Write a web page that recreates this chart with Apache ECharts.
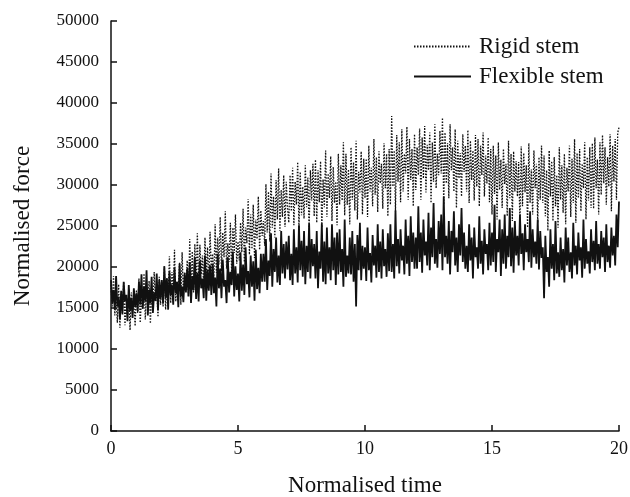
<!DOCTYPE html>
<html>
<head>
<meta charset="utf-8">
<script src="https://cdn.jsdelivr.net/npm/echarts@6/dist/echarts.min.js"></script>
<style>
  html, body { margin: 0; padding: 0; background: #fff; }
  #chart { width: 630px; height: 497px; }
</style>
</head>
<body>
<div id="chart"></div>
<script>
// time step of the samples
const timeStep = 0.05;

// Rigid stem, normalised force (one row per unit of time)
const rigidForce = [
  17800, 15200, 18900, 14100, 16500, 13200, 17900, 12600, 16800, 14400, 18200, 12900, 15800, 13600, 17400, 12300, 16900, 14800, 15600, 12800,
  17200, 14400, 18600, 13200, 16100, 14900, 19200, 13600, 17500, 15200, 18300, 13100, 16800, 14600, 19400, 15800, 17200, 13900, 18800, 15400,
  17600, 15200, 20100, 14800, 18700, 16400, 21300, 15600, 19400, 16900, 22100, 15800, 18200, 17100, 20600, 15400, 21800, 16600, 19300, 17400,
  20800, 16500, 23400, 17800, 21900, 16900, 22800, 18200, 24100, 17600, 22700, 19100, 21400, 17300, 23600, 18800, 22400, 17900, 24300, 19400,
  21600, 18400, 25200, 19300, 23600, 20300, 26100, 19500, 24200, 21200, 26800, 19800, 22900, 20600, 25400, 19200, 24800, 21700, 26400, 20400,
  23100, 20800, 25400, 21800, 27100, 20600, 24800, 22900, 28300, 21500, 26400, 22200, 27600, 21100, 25800, 23400, 28600, 22100, 26900, 23800,
  25600, 22600, 30100, 24200, 29200, 23100, 31400, 24800, 28600, 23600, 30600, 25800, 32000, 24400, 29400, 26100, 31200, 24900, 30400, 27200,
  25400, 31200, 26800, 32100, 25100, 30400, 27600, 32800, 24700, 31600, 26300, 29800, 25900, 32400, 27300, 30900, 24600, 31800, 28100, 32600,
  26200, 33100, 25400, 31800, 27900, 32900, 24800, 30700, 27300, 34200, 26100, 31400, 28400, 33500, 25600, 32200, 27800, 30400, 25100, 33800,
  27600, 32400, 28100, 35200, 26300, 33800, 27600, 31900, 25200, 34600, 28200, 32800, 26900, 35400, 25800, 31600, 29100, 34100, 26400, 33200,
  28400, 33200, 26100, 34800, 29200, 32100, 27400, 35600, 28800, 33400, 26700, 34100, 30200, 32600, 27100, 35100, 29600, 33800, 26200, 34400,
  27600, 38400, 29800, 34200, 26800, 36100, 30400, 35200, 27900, 36800, 29200, 33800, 31400, 37100, 28200, 35600, 30600, 34400, 27400, 36200,
  29400, 34600, 31200, 36900, 28200, 35800, 30800, 37200, 29100, 34900, 31800, 36400, 27800, 35200, 30400, 37400, 29600, 33800, 31200, 36600,
  31400, 38200, 27600, 36400, 30200, 35100, 28400, 37400, 31800, 34600, 29200, 36800, 27200, 35400, 30800, 33900, 28600, 36200, 31600, 34800,
  29200, 36700, 27800, 35400, 30600, 34200, 28100, 36100, 29800, 35600, 27400, 34800, 31200, 36400, 28600, 33600, 30200, 35800, 27900, 34400,
  26400, 34800, 28900, 33600, 25800, 35200, 29400, 33100, 27200, 34400, 30100, 32600, 26200, 35400, 28400, 33800, 25600, 34100, 29200, 32900,
  28600, 32800, 25200, 34700, 27400, 33900, 29100, 32400, 24800, 35100, 27800, 31900, 26400, 34200, 29600, 32600, 25400, 33400, 28200, 34800,
  27800, 33600, 26200, 31800, 24400, 34200, 28600, 32900, 25600, 33400, 27400, 31200, 24800, 34600, 28200, 32400, 26600, 33800, 25200, 32100,
  29200, 34800, 26100, 33200, 27800, 35600, 25400, 33900, 28400, 34400, 26800, 32600, 29600, 35200, 25800, 33400, 28100, 34600, 27200, 35100,
  27100, 35800, 29600, 33100, 26400, 35200, 28800, 36100, 30200, 34600, 27600, 33400, 29800, 36200, 26800, 34800, 30400, 35600, 28200, 36400,
  37000
];

// Flexible stem, normalised force
const flexibleForce = [
  18400, 15600, 17200, 14800, 18900, 15200, 16400, 13600, 17100, 14200, 18200, 15800, 16600, 13400, 17800, 14600, 16200, 13800, 17400, 15100,
  16800, 14600, 18200, 15400, 19100, 14900, 17600, 15800, 19600, 14100, 17200, 15600, 18800, 14400, 16900, 15900, 19200, 14700, 18400, 16100,
  18400, 15600, 20100, 16200, 18600, 14800, 19400, 16600, 17800, 15400, 19900, 16800, 18200, 15100, 20400, 16400, 17600, 15700, 19300, 16900,
  19800, 16400, 20600, 15600, 18900, 17200, 21200, 16100, 19300, 15800, 20800, 17400, 18600, 16200, 21400, 15900, 19700, 17100, 20200, 16600,
  20400, 16800, 18700, 15200, 21600, 17400, 19800, 16200, 20900, 17600, 18400, 15600, 21200, 16900, 19400, 17800, 21900, 16400, 20100, 17200,
  19200, 15800, 21800, 17100, 20300, 16600, 22400, 17900, 19500, 16300, 21400, 17600, 20700, 15900, 22100, 17300, 19900, 16800, 21600, 18200,
  21600, 18200, 23400, 17200, 20800, 18900, 24100, 17600, 22200, 19400, 23600, 18100, 21400, 17800, 24400, 19200, 22800, 18600, 23100, 19700,
  23800, 18400, 21600, 17800, 24600, 19200, 22400, 18100, 25100, 19600, 23200, 18800, 24400, 17900, 22600, 19400, 25300, 18600, 23400, 20100,
  22800, 18600, 24400, 17400, 21900, 19800, 25300, 18200, 23100, 17900, 24800, 19200, 22400, 18400, 25200, 19600, 23600, 17800, 24200, 19100,
  24600, 19400, 22200, 17600, 25800, 18800, 21400, 19200, 23600, 19100, 24400, 18200, 22800, 15200, 23900, 19600, 25400, 18400, 22600, 19800,
  22400, 18300, 24800, 19600, 21700, 18100, 23900, 20200, 22600, 18700, 25200, 19400, 23100, 18600, 24600, 20100, 22200, 18800, 24100, 19500,
  25200, 19400, 22800, 18600, 26900, 20100, 23400, 19200, 24600, 20800, 22600, 19100, 25800, 20400, 23800, 18900, 26200, 20600, 24200, 19800,
  23600, 19800, 27400, 20600, 24200, 19300, 25800, 21400, 23100, 20200, 26600, 19600, 24800, 21200, 27800, 20400, 23400, 19900, 25600, 21600,
  26400, 19600, 28600, 21200, 23800, 20400, 25600, 19100, 24400, 21800, 26800, 20200, 23600, 19400, 25200, 21400, 27200, 20600, 24200, 19800,
  22600, 19400, 25200, 20800, 23600, 18600, 24800, 21200, 22400, 19800, 26200, 20400, 23200, 19100, 24600, 21600, 22800, 19600, 25400, 20200,
  24200, 20600, 27600, 19400, 23400, 21800, 25800, 18900, 24600, 20400, 26400, 19800, 23800, 21200, 27200, 20100, 24800, 19300, 25600, 21400,
  23800, 20200, 26400, 21600, 24100, 19600, 25200, 21800, 23400, 20600, 26800, 19900, 24600, 21200, 23100, 20400, 25800, 19700, 24400, 21100,
  22400, 16200, 23800, 19400, 21200, 17600, 24600, 19800, 22800, 18400, 25600, 19200, 21800, 18800, 23600, 19600, 22200, 18100, 24800, 20200,
  23600, 19400, 21800, 18600, 25400, 20200, 22600, 19100, 24200, 20800, 22400, 18700, 25800, 19800, 23400, 20400, 21900, 19200, 24600, 20600,
  23200, 19600, 25600, 20400, 22800, 19800, 24400, 21200, 23600, 19400, 25200, 20600, 22600, 19900, 24800, 21400, 23800, 20200, 26400, 22400,
  28000
];

const seriesNames = ['Rigid stem', 'Flexible stem'];

const toPoints = (vals) => vals.map((v, i) => [+(i * timeStep).toFixed(2), v]);

const font = '"Liberation Serif", "Times New Roman", serif';
const chart = echarts.init(document.getElementById('chart'));
chart.setOption({
    animation: false,
    backgroundColor: '#fff',
    grid: { left: 111, right: 11, top: 21, bottom: 66, outerBoundsMode: 'none', containLabel: false },
    legend: {
        show: true,
        orient: 'vertical',
        left: 408,
        top: 30,
        itemWidth: 57,
        itemHeight: 14,
        itemGap: 7,
        itemStyle: { opacity: 0 },
        textStyle: { fontFamily: font, fontSize: 23, color: '#111', padding: [0, 0, 0, 3] },
        data: seriesNames
    },
    xAxis: {
        type: 'value',
        min: 0,
        max: 20,
        interval: 5,
        name: 'Normalised time',
        nameLocation: 'middle',
        nameGap: 43,
        nameTextStyle: { fontFamily: font, fontSize: 23, color: '#111' },
        axisLine: { lineStyle: { color: '#111', width: 1.5 } },
        axisTick: { inside: true, length: 6, lineStyle: { color: '#111', width: 1.5 } },
        axisLabel: { fontFamily: font, fontSize: 18, color: '#111', margin: 9 },
        splitLine: { show: false }
    },
    yAxis: {
        type: 'value',
        min: 0,
        max: 50000,
        interval: 5000,
        name: 'Normalised force',
        nameLocation: 'middle',
        nameGap: 77,
        nameTextStyle: { fontFamily: font, fontSize: 23, color: '#111' },
        axisLine: { show: true, lineStyle: { color: '#111', width: 1.5 } },
        axisTick: { show: true, inside: true, length: 6, lineStyle: { color: '#111', width: 1.5 } },
        axisLabel: {
            fontFamily: font, fontSize: 17, color: '#111', margin: 12,
            formatter: (v) => String(v)
        },
        splitLine: { show: false }
    },
    series: [
        {
            name: seriesNames[0],
            type: 'line',
            data: toPoints(rigidForce),
            showSymbol: false,
            symbol: 'none',
            itemStyle: { color: '#111' },
            lineStyle: { color: '#111', width: 1.3, type: [1.5, 1.5] }
        },
        {
            name: seriesNames[1],
            type: 'line',
            data: toPoints(flexibleForce),
            showSymbol: false,
            symbol: 'none',
            itemStyle: { color: '#111' },
            lineStyle: { color: '#111', width: 1.8 }
        }
    ]
});
</script>
</body>
</html>
